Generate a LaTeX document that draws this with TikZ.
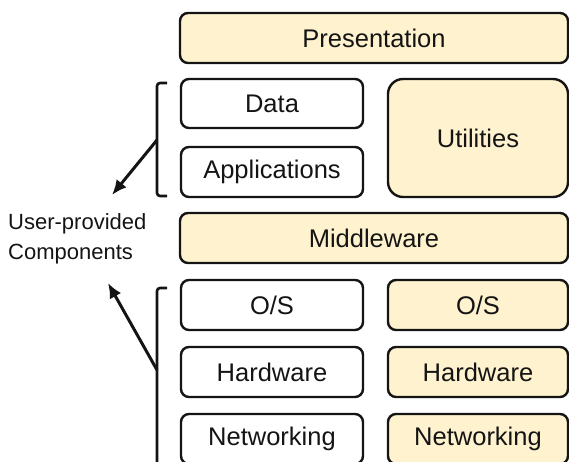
\documentclass[tikz,border=0pt]{standalone}
\usepackage{fontspec}
\setmainfont{Liberation Sans}
\usetikzlibrary{arrows.meta}
\definecolor{cream}{RGB}{255,242,206}
\definecolor{ink}{RGB}{20,20,20}
\tikzset{
  layer/.style={draw=ink, line width=2.4pt, rounded corners=8pt, text=ink,
    font=\fontsize{25.5}{28}\selectfont, inner sep=0pt},
  plain/.style={layer, fill=white},
  shaded/.style={layer, fill=cream},
  brk/.style={draw=ink, line width=2.6pt, rounded corners=3pt},
  pointer/.style={draw=ink, line width=3pt, -{Latex[length=15pt,width=13pt]}},
}
\begin{document}
\begin{tikzpicture}[x=1pt,y=-1pt]
\useasboundingbox (0,0) rectangle (569,462);
\node[shaded, minimum width=388, minimum height=50] (pres) at (374,38) {Presentation};
\node[plain, minimum width=182, minimum height=49] (data) at (272,103.5) {Data};
\node[plain, minimum width=182, minimum height=50] (apps) at (272,172) {Applications};
\node[shaded, minimum width=180, minimum height=118, rounded corners=15pt] (util) at (478,138) {Utilities};
\node[shaded, minimum width=388, minimum height=50] (mid) at (374,238) {Middleware};
\node[plain, minimum width=182, minimum height=50] (os1) at (272,305) {O/S};
\node[shaded, minimum width=180, minimum height=50] (os2) at (478,305) {O/S};
\node[plain, minimum width=182, minimum height=50] (hw1) at (272,372) {Hardware};
\node[shaded, minimum width=180, minimum height=50] (hw2) at (478,372) {Hardware};
\node[plain, minimum width=182, minimum height=50] (nw1) at (272,439) {Networking};
\node[shaded, minimum width=180, minimum height=50] (nw2) at (478,439) {Networking};
\node[anchor=west, align=left, text=ink, inner sep=0pt,
  font=\fontsize{22}{30}\selectfont] (lbl) at (8,239) {User-provided\\Components};
% brackets
\draw[brk] (167,83) -- (157,83) -- (157,196) -- (167,196);
\draw[brk] (167,288) -- (157,288) -- (157,475);
\coordinate (b1) at (157,140);
\coordinate (b2) at (157,370);
\coordinate (t1) at (112,195);
\coordinate (t2) at (108,283);
\draw[pointer] (b1) -- (t1);
\draw[pointer] (b2) -- (t2);
\end{tikzpicture}
\end{document}
